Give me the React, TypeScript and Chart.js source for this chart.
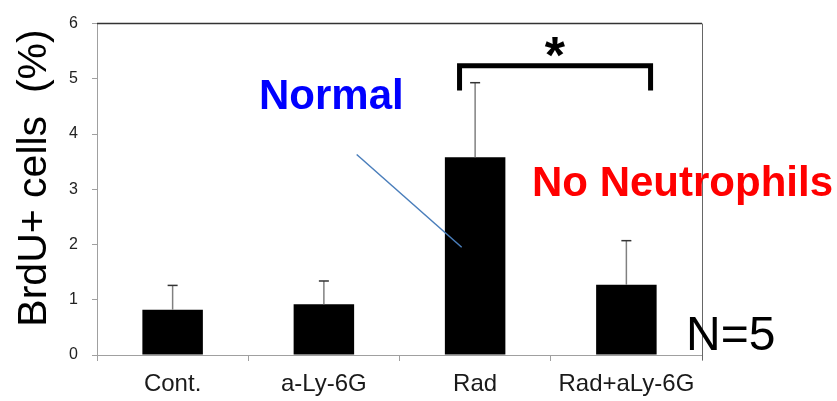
import React, { useEffect, useRef } from "react";
import { Chart, registerables } from "chart.js";

Chart.register(...registerables);

const categories = ["Cont.", "a-Ly-6G", "Rad", "Rad+aLy-6G"];
const means = [0.82, 0.92, 3.58, 1.27];
const upperErrors = [0.44, 0.42, 1.35, 0.8];
const yTickValues = [0, 1, 2, 3, 4, 5, 6];
const yTitle = "BrdU+ cells\u00a0\u00a0(%)";
const normalLabel = "Normal";
const noNeutroLabel = "No Neutrophils";
const nLabel = "N=5";
const sigLabel = "*";

const FONT = "'Liberation Sans', Arial, sans-serif";

const overlayPlugin = {
  id: "overlay",
  afterDatasetsDraw(chart: any) {
    const ctx = chart.ctx;
    const ys = chart.scales.y;
    const meta = chart.getDatasetMeta(0);
    ctx.save();
    meta.data.forEach((bar: any, i: number) => {
      const top = ys.getPixelForValue(means[i] + upperErrors[i]);
      const base = ys.getPixelForValue(means[i]);
      ctx.strokeStyle = "#808080";
      ctx.lineWidth = 1.5;
      ctx.beginPath();
      ctx.moveTo(bar.x, base);
      ctx.lineTo(bar.x, top);
      ctx.stroke();
      ctx.strokeStyle = "#333333";
      ctx.beginPath();
      ctx.moveTo(bar.x - 5, top);
      ctx.lineTo(bar.x + 5, top);
      ctx.stroke();
    });
    ctx.restore();
  },
  afterDraw(chart: any) {
    const ctx = chart.ctx;
    const xs = chart.scales.x;
    const ys = chart.scales.y;
    const a = chart.chartArea;
    ctx.save();
    // top & right frame
    ctx.strokeStyle = "#333333";
    ctx.lineWidth = 1.5;
    ctx.beginPath();
    ctx.moveTo(a.left, a.top);
    ctx.lineTo(a.right, a.top);
    ctx.stroke();
    ctx.strokeStyle = "#666666";
    ctx.lineWidth = 1;
    ctx.beginPath();
    ctx.moveTo(a.right + 0.5, a.top);
    ctx.lineTo(a.right + 0.5, a.bottom + 5);
    ctx.stroke();

    // significance bracket
    const xl = xs.getPixelForValue(1.897);
    const xr = xs.getPixelForValue(3.16);
    const yt = ys.getPixelForValue(5.236);
    const yb = ys.getPixelForValue(4.79);
    ctx.strokeStyle = "#000000";
    ctx.lineWidth = 5;
    ctx.lineJoin = "miter";
    ctx.beginPath();
    ctx.moveTo(xl, yb);
    ctx.lineTo(xl, yt);
    ctx.lineTo(xr, yt);
    ctx.lineTo(xr, yb);
    ctx.stroke();

    ctx.fillStyle = "#000000";
    ctx.font = `bold 52px ${FONT}`;
    ctx.textAlign = "center";
    ctx.textBaseline = "alphabetic";
    ctx.fillText(sigLabel, xs.getPixelForValue(2.528), 73);

    // Normal pointer line
    ctx.strokeStyle = "#4a7ebb";
    ctx.lineWidth = 1.5;
    ctx.beginPath();
    ctx.moveTo(xs.getPixelForValue(1.217), ys.getPixelForValue(3.63));
    ctx.lineTo(xs.getPixelForValue(1.911), ys.getPixelForValue(1.95));
    ctx.stroke();

    ctx.textAlign = "left";
    ctx.font = `bold 42px ${FONT}`;
    ctx.fillStyle = "#0000ff";
    ctx.fillText(normalLabel, 259, 109);
    ctx.fillStyle = "#ff0000";
    ctx.fillText(noNeutroLabel, 532, 196);

    ctx.fillStyle = "#000000";
    ctx.font = `48px ${FONT}`;
    ctx.fillText(nLabel, 686, 350);

    // y title
    ctx.translate(46, 178);
    ctx.rotate(-Math.PI / 2);
    ctx.textAlign = "center";
    ctx.font = `41px ${FONT}`;
    ctx.fillText(yTitle, 0, 0);
    ctx.restore();
  },
};

export default function App() {
  const ref = useRef<HTMLCanvasElement>(null);
  useEffect(() => {
    if (!ref.current) return;
    const chart = new Chart(ref.current, {
      type: "bar",
      data: {
        labels: categories,
        datasets: [
          {
            data: means,
            backgroundColor: "#000000",
            borderWidth: 0,
            barPercentage: 0.4,
            categoryPercentage: 1,
          },
        ],
      },
      options: {
        animation: false,
        responsive: false,
        maintainAspectRatio: false,
        devicePixelRatio: 1,
        layout: {
          autoPadding: false,
          padding: { left: 0, right: 135, top: 19, bottom: 0 },
        },
        plugins: {
          legend: { display: false },
          tooltip: { enabled: false },
        },
        scales: {
          x: {
            offset: true,
            afterFit(scale: any) {
              scale.height = 46;
            },
            grid: {
              offset: true,
              drawOnChartArea: false,
              drawTicks: true,
              tickLength: 6,
              tickColor: "#a0a0a0",
              lineWidth: 1,
            },
            border: { color: "#a0a0a0", width: 1 },
            ticks: {
              color: "#1a1a1a",
              font: { family: FONT, size: 24 },
              padding: 9,
              maxRotation: 0,
              autoSkip: false,
            },
          },
          y: {
            min: 0,
            max: 6,
            afterFit(scale: any) {
              scale.width = 97;
            },
            afterBuildTicks(scale: any) {
              scale.ticks = yTickValues.map((v) => ({ value: v }));
            },
            grid: {
              drawOnChartArea: false,
              drawTicks: true,
              tickLength: 5,
              tickColor: "#a0a0a0",
            },
            border: { color: "#a0a0a0", width: 1 },
            ticks: {
              color: "#222222",
              font: { family: FONT, size: 16 },
              padding: 14,
            },
          },
        },
      },
      plugins: [overlayPlugin],
    });
    return () => chart.destroy();
  }, []);
  return (
    <div style={{ position: "fixed", left: 0, top: 0, width: 837, height: 401, background: "#fff" }}>
      <canvas ref={ref} width={837} height={401} style={{ width: 837, height: 401, display: "block" }} />
    </div>
  );
}
